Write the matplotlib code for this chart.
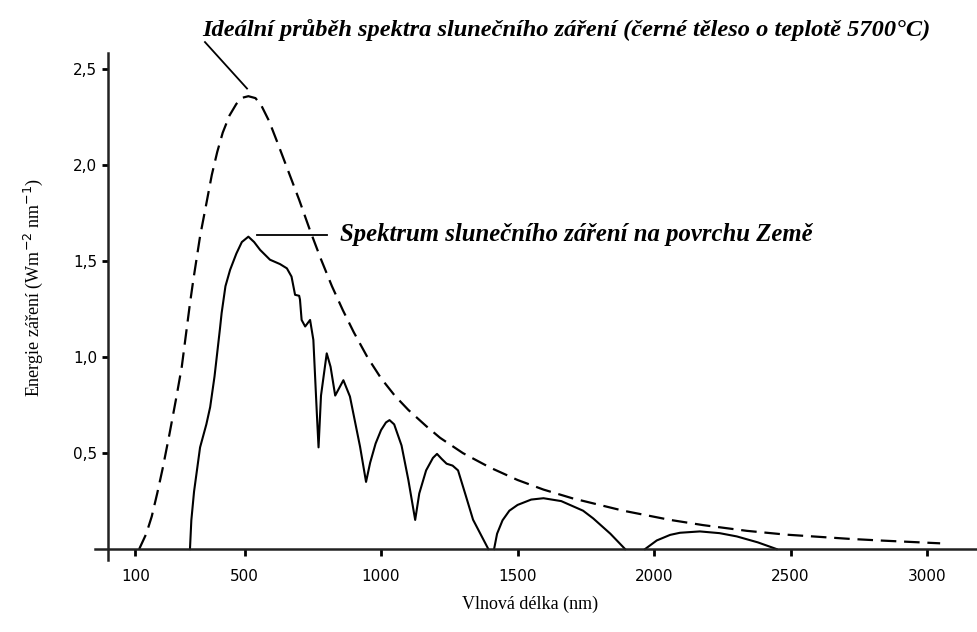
import matplotlib
matplotlib.use("Agg")
import matplotlib.pyplot as plt

# Black-body curve (5700 °C), wavelength in nm and irradiance in W m^-2 nm^-1
bb_nm = [114, 140, 160, 180, 200, 225, 250, 270, 290, 300, 312, 337, 360,
         380, 400, 420, 445, 470, 492, 514, 540, 562, 590, 620, 660, 700,
         740, 780, 820, 860, 900, 950, 1000, 1050, 1100, 1166, 1216, 1300,
         1399, 1500, 1595, 1700, 1887, 2059, 2179, 2340, 2486, 2718, 2839,
         3048]
bb_val = [0.0, 0.08, 0.17, 0.29, 0.42, 0.60, 0.79, 0.95, 1.17, 1.28, 1.40,
          1.63, 1.80, 1.95, 2.07, 2.17, 2.26, 2.32, 2.352, 2.36, 2.35, 2.31,
          2.23, 2.12, 1.97, 1.82, 1.66, 1.51, 1.37, 1.245, 1.13, 1.0, 0.89,
          0.80, 0.725, 0.64, 0.58, 0.50, 0.425, 0.36, 0.31, 0.265, 0.2, 0.152,
          0.125, 0.095, 0.075, 0.053, 0.044, 0.03]

# Spectrum at the Earth's surface, split into bands separated by zero gaps
sfc_nm = [300, 305, 315, 337, 360, 374, 390, 398, 410, 416, 430, 447, 470,
          490, 514, 535, 557, 593, 630, 655, 672, 685, 700, 703, 709, 722,
          740, 752, 765, 771, 780, 801, 815, 832, 862, 886, 923, 945, 960,
          980, 1000, 1018, 1031, 1048, 1075, 1100, 1125, 1140, 1165, 1190,
          1205, 1222, 1240, 1262, 1282, 1310, 1337, 1393]
sfc_val = [0.0, 0.15, 0.3, 0.53, 0.65, 0.74, 0.9, 1.0, 1.15, 1.23, 1.37,
           1.455, 1.54, 1.6, 1.628, 1.6, 1.559, 1.508, 1.485, 1.463, 1.42,
           1.325, 1.32, 1.30, 1.194, 1.16, 1.194, 1.09, 0.7, 0.53, 0.8, 1.02,
           0.95, 0.80, 0.88, 0.795, 0.534, 0.35, 0.45, 0.55, 0.62, 0.66,
           0.672, 0.65, 0.54, 0.36, 0.152, 0.29, 0.41, 0.475, 0.496, 0.47,
           0.445, 0.435, 0.41, 0.28, 0.153, 0.0]
band2_nm = [1414, 1425, 1445, 1470, 1500, 1550, 1595, 1660, 1740, 1777,
            1840, 1894]
band2_val = [0.0, 0.08, 0.15, 0.2, 0.23, 0.258, 0.265, 0.25, 0.2, 0.16,
             0.08, 0.0]
band3_nm = [1967, 2010, 2059, 2095, 2168, 2240, 2303, 2380, 2449]
band3_val = [0.0, 0.045, 0.074, 0.085, 0.092, 0.083, 0.066, 0.035, 0.0]

x_ticks = [100, 500, 1000, 1500, 2000, 2500, 3000]
x_tick_labels = ["100", "500", "1000", "1500", "2000", "2500", "3000"]
y_ticks = [0.5, 1.0, 1.5, 2.0, 2.5]
y_tick_labels = ["0,5", "1,0", "1,5", "2,0", "2,5"]

title_text = "Ideální průběh spektra slunečního záření (černé těleso o teplotě 5700°C)"
surface_text = "Spektrum slunečního záření na povrchu Země"

fig = plt.figure(figsize=(9.77, 6.32), dpi=100)
ax = fig.add_axes([0.0972, 0.1139, 0.9028, 0.8022])
ax.set_xlim(-48, 3183)
ax.set_ylim(-0.057, 2.585)

ax.plot(bb_nm, bb_val, color="black", lw=1.6, dashes=(7, 3.5))
for xs, ys in [(sfc_nm, sfc_val), (band2_nm, band2_val), (band3_nm, band3_val)]:
    ax.plot(xs, ys, color="black", lw=1.5)

for side in ("top", "right"):
    ax.spines[side].set_visible(False)
for side in ("left", "bottom"):
    ax.spines[side].set_position(("data", 0))
    ax.spines[side].set_linewidth(1.8)
    ax.spines[side].set_color("#222222")

ax.set_xticks(x_ticks, x_tick_labels)
ax.set_yticks(y_ticks, y_tick_labels)
ax.tick_params(axis="x", direction="out", length=5, width=2, pad=9, labelsize=11)
ax.tick_params(axis="y", direction="out", length=4, width=2, pad=4, labelsize=11)

serif = "Liberation Serif"
fig.text(0.0338, 0.546, "Energie záření (Wm$^{-2}$ nm$^{-1}$)", rotation=90,
         ha="center", va="center", family=serif, fontsize=13)
fig.text(0.543, 0.043, "Vlnová délka (nm)", ha="center", va="center",
         family=serif, fontsize=13)

fig.text(0.2065, 0.953, title_text, ha="left", va="center", family=serif,
         fontsize=17.6, fontweight="bold", style="italic")
ax.plot([355, 509], [2.642, 2.40], color="black", lw=1.3, clip_on=False)

ax.text(850, 1.637, surface_text, ha="left", va="center", family=serif,
        fontsize=17.8, fontweight="bold", style="italic")
ax.plot([545, 801], [1.637, 1.637], color="black", lw=1.3)

fig.savefig("out.png", dpi=100, facecolor="white")
